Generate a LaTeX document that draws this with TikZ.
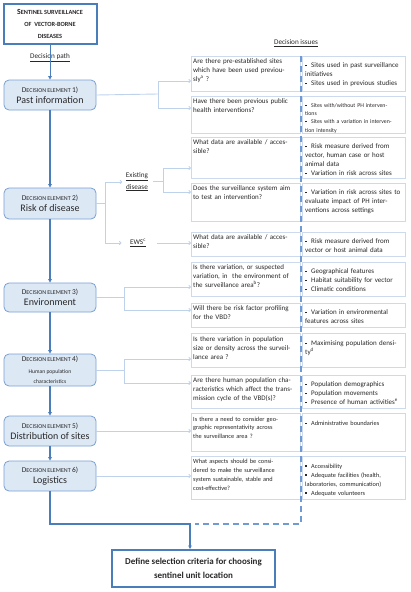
\documentclass[tikz,border=0pt]{standalone}
\usepackage{fontspec}
\setmainfont{Carlito}
\usetikzlibrary{arrows.meta}
\definecolor{mainblue}{RGB}{74,126,187}
\definecolor{deborder}{RGB}{120,160,210}
\definecolor{defill}{RGB}{221,232,245}
\definecolor{connblue}{RGB}{190,210,236}
\definecolor{qborder}{RGB}{205,218,238}
\definecolor{dashblue}{RGB}{110,155,212}
\definecolor{txt}{RGB}{40,40,40}
\newcommand\bul{\makebox[6pt][l]{\raisebox{1.5pt}{\rule{1.4pt}{1.4pt}}}}
\newcommand\bitem[1]{\par\hangindent=6pt\hangafter=1\noindent\bul#1}
\newcommand\desc[1]{{\fontsize{7.4}{9}\selectfont D}{\fontsize{6}{9}\selectfont ECISION ELEMENT }{\fontsize{7.4}{9}\selectfont #1}}
\newcommand\delabel[1]{{\fontsize{10}{12}\selectfont #1}}
\newcommand\tsm[1]{{\fontsize{6.3}{12}\selectfont #1}}
\begin{document}
\begin{tikzpicture}[x=1pt,y=-1pt,
  titlebox/.style={draw=mainblue, line width=2pt, minimum width=93pt, minimum height=40pt, align=center, inner sep=1pt, font=\bfseries, text=txt},
  debox/.style={draw=deborder, fill=defill, line width=0.8pt, rounded corners=5pt, minimum width=92pt, minimum height=30pt, align=center, inner sep=1pt, text=txt},
  qbox/.style={draw=qborder, line width=0.8pt, fill=white, anchor=north west, inner sep=0pt},
  qtext/.style={anchor=north west, align=left, inner sep=0pt, text=txt, text width=106pt, font=\fontsize{7}{9}\selectfont},
  atext/.style={qtext, text width=99pt},
  mainarrow/.style={draw=mainblue, line width=1.1pt, -{Triangle[length=3.5pt,width=3.5pt]}},
  connline/.style={draw=connblue, line width=0.9pt},
  conn/.style={draw=connblue, line width=0.9pt, -{To[length=2.5pt,width=4pt]}},
  dashline/.style={draw=dashblue, line width=1.1pt, dash pattern=on 6pt off 4pt},
  lbl/.style={align=center, inner sep=0.5pt, text=txt, font=\fontsize{7.2}{12}\selectfont}
]
\useasboundingbox (0,0) rectangle (410,592);

% title and decision elements
\node[titlebox] (title) at (50,23.5) {{\fontsize{7.8}{12}\selectfont S}\tsm{ENTINEL SURVEILLANCE}\\\tsm{OF\ \ VECTOR-BORNE}\\\tsm{DISEASES}};
\node[lbl, fill=white] (dp) at (50,58) {\underline{Decision path}};
\node[debox] (de1) at (50,95) {\desc{1)}\\[-1pt]\delabel{Past information}};
\node[debox, minimum height=31pt] (de2) at (50,203.5) {\desc{2)}\\[-1pt]\delabel{Risk of disease}};
\node[debox, minimum height=29pt] (de3) at (50,297.5) {\desc{3)}\\[-1pt]\delabel{Environment}};
\node[debox, minimum height=32pt] (de4) at (50,370) {\desc{4)}\\{\fontsize{5.6}{8.5}\selectfont Human population}\\[-2pt]{\fontsize{5.6}{8.5}\selectfont characteristics}};
\node[debox] (de5) at (50,431) {\desc{5)}\\[-1pt]\delabel{Distribution of sites}};
\node[debox] (de6) at (50,476) {\desc{6)}\\[-1pt]\delabel{Logistics}};
\node[draw=mainblue, line width=2pt, minimum width=163pt, minimum height=37pt, align=center, inner sep=1pt, text=txt, font=\bfseries\fontsize{9}{14}\selectfont] (final) at (193.5,568.5) {Define selection criteria for choosing\\sentinel unit location};

\node[lbl] (issues) at (296,43) {\underline{Decision issues}};
\node[lbl, font=\fontsize{7.2}{11.5}\selectfont] (ex) at (137,182) {\underline{Existing}\\\underline{disease}};
\node[lbl] (ews) at (138,243) {\underline{EWS$^{\mathrm{c}}$}};

% question boxes (left) and answer boxes (right)
\foreach \n/\t/\b in {1/56/91, 2/96/133, 3/137/178, 4/183/221, 5/232/256, 6/262/296, 7/303/327, 8/333/367, 9/375/408, 10/413/451, 11/456/499}{
  \pgfmathsetmacro\h{\b-\t}
  \node[qbox, minimum width=109pt, minimum height=\h pt] (q\n) at (191,\t) {};
  \node[qbox, minimum width=103pt, minimum height=\h pt] (a\n) at (302,\t) {};
}

\node[qtext] (q1t) at (193,58.5) {Are there pre-established sites\\which have been used previou-\\sly$^{\mathrm{a}}$ ?};
\node[atext] (a1t) at (305,58.5) {\bitem{Sites used in past surveillance\\initiatives}\bitem{Sites used in previous studies}};
\node[qtext] (q2t) at (193,98.5) {Have there been previous public\\health interventions?};
\node[atext, font=\fontsize{5.8}{8.2}\selectfont] (a2t) at (305,99) {\bitem{Sites with/without PH interven-\\tions}\bitem{Sites with a variation in interven-\\tion intensity}};
\node[qtext] (q3t) at (193,139.5) {What data are available / acces-\\sible?};
\node[atext] (a3t) at (305,139.5) {\bitem{Risk measure derived from\\vector, human case or host\\animal data}\bitem{Variation in risk across sites}};
\node[qtext] (q4t) at (193,185.5) {Does the surveillance system aim\\to test an intervention?};
\node[atext] (a4t) at (305,185.5) {\bitem{Variation in risk across sites to\\evaluate impact of PH inter-\\ventions across settings}};
\node[qtext] (q5t) at (193,234.5) {What data are available / acces-\\sible?};
\node[atext] (a5t) at (305,234.5) {\bitem{Risk measure derived from\\vector or host animal data}};
\node[qtext] (q6t) at (193,264.5) {Is there variation, or suspected\\variation, in\ \ the environment of\\the surveillance area$^{\mathrm{b}}$?};
\node[atext] (a6t) at (305,264.5) {\bitem{Geographical features}\bitem{Habitat suitability for vector}\bitem{Climatic conditions}};
\node[qtext] (q7t) at (193,305.5) {Will there be risk factor profiling\\for the VBD?};
\node[atext] (a7t) at (305,305.5) {\bitem{Variation in environmental\\features across sites}};
\node[qtext] (q8t) at (193,336.5) {Is there variation in population\\size or density across the surveil-\\lance area ?};
\node[atext] (a8t) at (305,336.5) {\bitem{Maximising population densi-\\ty$^{\mathrm{d}}$}};
\node[qtext] (q9t) at (193,377.5) {Are there human population cha-\\racteristics which affect the trans-\\mission cycle of the VBD(s)?};
\node[atext] (a9t) at (305,377.5) {\bitem{Population demographics}\bitem{Population movements}\bitem{Presence of human activities$^{\mathrm{e}}$}};
\node[qtext, font=\fontsize{6.3}{8.7}\selectfont] (q10t) at (193,416.5) {Is there a need to consider geo-\\graphic representativity across\\the surveillance area ?};
\node[atext, font=\fontsize{6.3}{8.7}\selectfont] (a10t) at (305,416.5) {\bitem{Administrative boundaries}};
\node[qtext, font=\fontsize{6.3}{9}\selectfont] (q11t) at (193,459) {What aspects should be consi-\\dered to make the surveillance\\system sustainable, stable and\\cost-effective?};
\node[atext, font=\fontsize{6.3}{9}\selectfont] (a11t) at (305,459) {\bitem{Accessibility}\bitem{Adequate facilities (health,\\laboratories, communication)}\bitem{Adequate volunteers}};

% main decision path
\draw[mainarrow, line width=0.9pt] (title) -- (de1);
\draw[mainarrow] (de1) -- (de2);
\draw[mainarrow] (de2) -- (de3);
\draw[mainarrow] (de3) -- (de4);
\draw[mainarrow] (de4) -- (de5);
\draw[mainarrow] (de5) -- (de6);
\coordinate (j) at (190,524);
\draw[mainarrow] (de6.south) |- (j) -- (j |- final.north);
\coordinate (dtop) at (301,56);
\coordinate (dcorner) at (301,524);
\draw[dashline] (dtop) -- (dcorner) -- ([xshift=5pt]j);

% element 1
\coordinate (b1) at (158,94);
\draw[connline] (de1.east) -- (b1);
\draw[conn] (b1) |- (q1.west |- {(0,81)});
\draw[conn] (b1) |- (q2.west |- {(0,108)});
% element 2
\coordinate (b2) at (105,203.5);
\draw[connline] (de2.east) -- (b2);
\draw[conn] (b2) |- ([xshift=-3pt]ex.west);
\draw[conn] (b2) |- ([xshift=-8pt]ews.west);
\coordinate (b2e) at (163,181);
\draw[connline] ([xshift=4pt]ex.east |- b2e) -- (b2e);
\draw[conn] (b2e) |- (q3.west |- {(0,168)});
\draw[conn] (b2e) |- (q4.west |- {(0,192)});
\draw[conn] ([xshift=10pt]ews.east) -- (q5.west |- ews);
% element 3
\coordinate (b3) at (124,297.5);
\draw[connline] (de3.east) -- (b3);
\draw[conn] (b3) |- (q6.west |- {(0,287)});
\draw[conn] (b3) |- (q7.west |- {(0,310)});
% element 4
\coordinate (b4) at (124,370);
\draw[connline] (de4.east) -- (b4);
\draw[conn] (b4) |- (q8.west |- {(0,359)});
\draw[conn] (b4) |- (q9.west |- {(0,383)});
% elements 5 and 6
\draw[conn] (de5.east) -- (q10.west |- de5.east);
\draw[conn] (de6.east) -- (q11.west |- de6.east);
\end{tikzpicture}
\end{document}
